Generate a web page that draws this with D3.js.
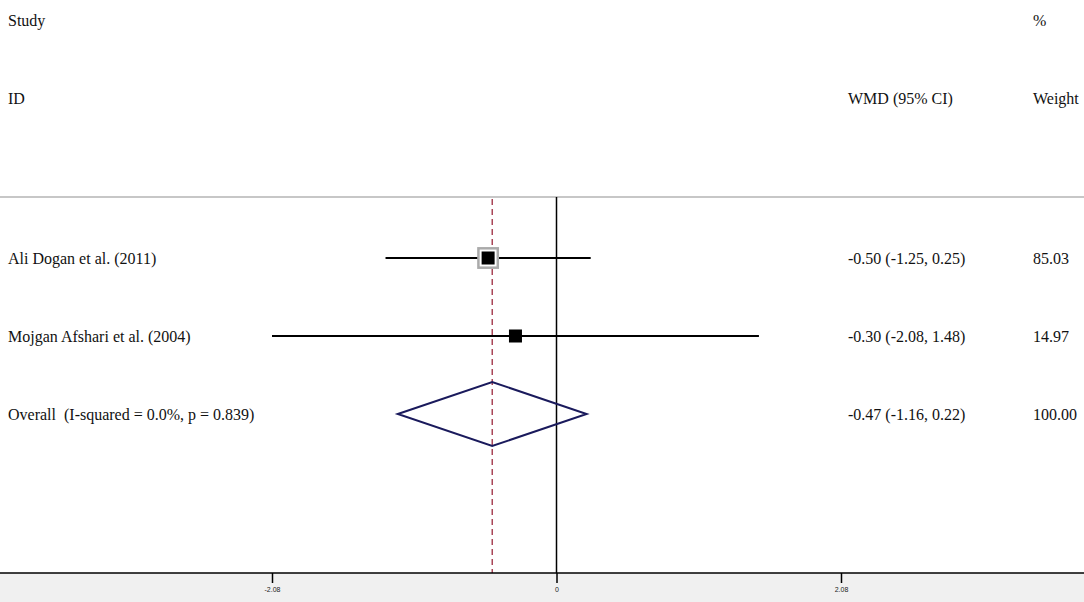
<!DOCTYPE html>
<html lang="en">
<head>
  <meta charset="utf-8">
  <title>Forest plot</title>
  <script src="https://d3js.org/d3.v7.min.js"></script>
  <style>
    * { margin: 0; padding: 0; }
    html, body { background: #fff; }
    svg { display: block; font-family: "Liberation Serif", "DejaVu Serif", serif; }
    svg text { white-space: pre; }
  </style>
</head>
<body>
  <svg id="plot" width="1084" height="602"></svg>
  <script>
    // study rows
    const studies  = ["Ali Dogan et al. (2011)", "Mojgan Afshari et al. (2004)"];
    const estimate = [-0.50, -0.30];
    const lower    = [-1.25, -2.08];
    const upper    = [0.25, 1.48];
    const weights  = [85.03, 14.97];

    // pooled row
    const overallLabel = "Overall  (I-squared = 0.0%, p = 0.839)";
    const overall = { est: -0.47, lo: -1.16, hi: 0.22, weight: 100.00 };

    const tickValues = [-2.08, 0, 2.08];
    const tickLabels = ["-2.08", "0", "2.08"];

    const W = 1084, H = 602;
    const svg = d3.select("#plot");

    const axisY = 573;
    const headY = 197;
    const x = d3.scaleLinear().domain([-2.08, 2.08]).range([272, 841]);
    const rowY = d3.scalePoint()
      .domain([...studies, overallLabel])
      .range([258, 414]);

    // plain hyphen for negatives, like the original output
    const fmt = v => v.toFixed(2);
    const ci = (e, l, h) => `${fmt(e)} (${fmt(l)}, ${fmt(h)})`;

    // grey band under the axis
    svg.append("rect")
      .attr("x", 0).attr("y", axisY).attr("width", W).attr("height", H - axisY)
      .attr("fill", "#f0f0f0");

    // header rule
    svg.append("line")
      .attr("x1", 0).attr("x2", W).attr("y1", headY).attr("y2", headY)
      .attr("stroke", "#b4b4b4").attr("stroke-width", 1.5);

    const txt = (s, tx, ty) => svg.append("text")
      .attr("x", tx).attr("y", ty).attr("dy", "0.35em")
      .attr("font-size", 16).attr("fill", "#111").text(s);
    txt("Study", 8, 20);
    txt("ID", 8, 98);
    txt("%", 1033, 20);
    txt("WMD (95% CI)", 848, 98);
    txt("Weight", 1033, 98);

    // null line
    svg.append("line")
      .attr("x1", x(0)).attr("x2", x(0)).attr("y1", headY).attr("y2", axisY)
      .attr("stroke", "#000").attr("stroke-width", 1.5);

    // pooled estimate line
    svg.append("line")
      .attr("x1", x(overall.est)).attr("x2", x(overall.est))
      .attr("y1", headY + 2).attr("y2", axisY)
      .attr("stroke", "#9c2a3e").attr("stroke-width", 1.3)
      .attr("stroke-dasharray", "6,4");

    const rows = studies.map((s, i) => ({
      name: s, est: estimate[i], lo: lower[i], hi: upper[i], w: weights[i]
    }));

    svg.selectAll(".ci").data(rows).join("line")
      .attr("x1", d => x(d.lo)).attr("x2", d => x(d.hi))
      .attr("y1", d => rowY(d.name)).attr("y2", d => rowY(d.name))
      .attr("stroke", "#000").attr("stroke-width", 2);

    // weight box (grey) only visible where it exceeds the marker
    const boxSide = d3.scaleSqrt().domain([0, 100]).range([0, 21]);
    rows.forEach(d => {
      const s = boxSide(d.w);
      if (s > 14) {
        svg.append("rect")
          .attr("x", x(d.est) - s / 2).attr("y", rowY(d.name) - s / 2)
          .attr("width", s).attr("height", s)
          .attr("fill", "#fff").attr("stroke", "#aaa").attr("stroke-width", 2.5);
      }
    });

    svg.selectAll(".pt").data(rows).join("rect")
      .attr("x", d => x(d.est) - 6.5).attr("y", d => rowY(d.name) - 6.5)
      .attr("width", 13).attr("height", 13)
      .attr("fill", "#000");

    // overall diamond
    const oy = rowY(overallLabel);
    svg.append("path")
      .attr("d", `M${x(overall.lo)},${oy} L${x(overall.est)},${oy - 32} L${x(overall.hi)},${oy} L${x(overall.est)},${oy + 32} Z`)
      .attr("fill", "none").attr("stroke", "#1a1a5c").attr("stroke-width", 2);

    // row text
    rows.forEach(d => {
      const y = rowY(d.name);
      txt(d.name, 8, y);
      txt(ci(d.est, d.lo, d.hi), 848, y);
      txt(fmt(d.w), 1033, y);
    });
    txt(overallLabel, 8, oy);
    txt(ci(overall.est, overall.lo, overall.hi), 848, oy);
    txt(fmt(overall.weight), 1033, oy);

    // axis
    svg.append("line")
      .attr("x1", 0).attr("x2", W).attr("y1", axisY).attr("y2", axisY)
      .attr("stroke", "#000").attr("stroke-width", 1.5);

    const axis = d3.axisBottom(x).tickValues(tickValues)
      .tickFormat((d, i) => tickLabels[i]).tickSize(10).tickSizeOuter(0);
    const g = svg.append("g").attr("transform", `translate(0,${axisY})`).call(axis);
    g.select(".domain").remove();
    g.selectAll(".tick line").attr("stroke", "#000").attr("stroke-width", 1.5);
    g.selectAll(".tick text").attr("font-size", 7).attr("font-family", "Liberation Sans, sans-serif")
      .attr("y", 14).attr("fill", "#222");
  </script>
</body>
</html>
